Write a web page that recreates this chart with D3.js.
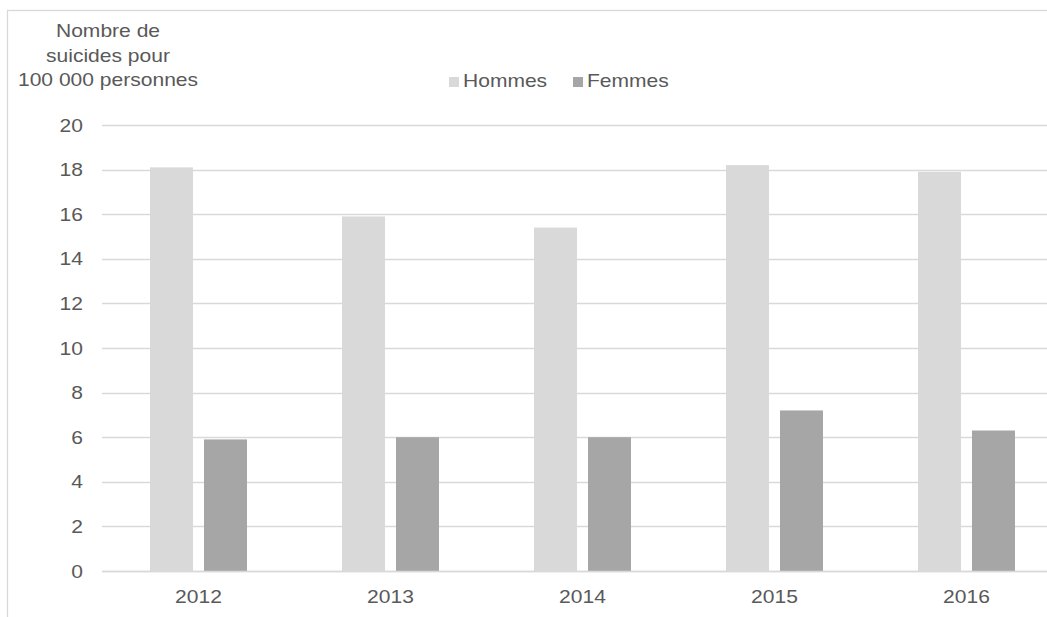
<!DOCTYPE html>
<html>
<head>
<meta charset="utf-8">
<script src="https://cdn.jsdelivr.net/npm/d3@7"></script>
<style>
  html, body { margin: 0; padding: 0; background: #fff; }
  svg { display: block; font-family: "Liberation Sans", Arial, sans-serif; }
</style>
</head>
<body>
<svg id="chart" width="1047" height="617"></svg>
<script>
const years = ["2012", "2013", "2014", "2015", "2016"];
const seriesNames = ["Hommes", "Femmes"];
const hommes = [18.1, 15.9, 15.4, 18.2, 17.9];
const femmes = [5.9, 6.0, 6.0, 7.2, 6.3];
const yTicks = [0, 2, 4, 6, 8, 10, 12, 14, 16, 18, 20];
const titleLines = ["Nombre de", "suicides pour", "100 000 personnes"];
const colors = ["#d9d9d9", "#a6a6a6"];

const svg = d3.select("#chart");
const textColor = "#595959";
const fontSize = 18.8;
const sx = 1.12; // horizontal stretch of text seen in the reference

function label(parent, px, py, txt, anchor) {
  const g = parent.append("g").attr("transform", `translate(${px},${py}) scale(${sx},1)`);
  g.append("text").attr("text-anchor", anchor || "start")
    .attr("font-size", fontSize).attr("fill", textColor).text(txt);
  return g;
}

// Chart border (partially cropped)
svg.append("rect")
  .attr("x", 7.5).attr("y", 10.5)
  .attr("width", 1100).attr("height", 700)
  .attr("fill", "none").attr("stroke", "#d9d9d9").attr("stroke-width", 1.3);

const x = d3.scaleBand().domain(years).range([102.5, 1062.5]).padding(0);
const xs = d3.scaleBand().domain(seriesNames).range([-48.5, 48.5]).paddingInner(11 / 54).paddingOuter(0);
const y = d3.scaleLinear().domain([0, 20]).range([571, 125]);

// Gridlines
svg.append("g").selectAll("line").data(yTicks).join("line")
  .attr("x1", 102).attr("x2", 1047)
  .attr("y1", d => Math.round(y(d)) + 0.5).attr("y2", d => Math.round(y(d)) + 0.5)
  .attr("stroke", "#d9d9d9").attr("stroke-width", 1.3);

// Y tick labels
const yl = svg.append("g");
yTicks.forEach(t => label(yl, 83, y(t) + 6.5, String(t), "end"));

// Bars
const data = years.map((yr, i) => ({ year: yr, values: [hommes[i], femmes[i]] }));
const groups = svg.append("g").selectAll("g").data(data).join("g")
  .attr("transform", d => `translate(${x(d.year) + x.bandwidth() / 2},0)`);
groups.selectAll("rect").data(d => d.values.map((v, j) => ({ name: seriesNames[j], v, j }))).join("rect")
  .attr("x", d => xs(d.name))
  .attr("width", xs.bandwidth())
  .attr("y", d => y(d.v))
  .attr("height", d => y(0) - y(d.v))
  .attr("fill", d => colors[d.j]);

// Baseline (axis)
svg.append("line")
  .attr("x1", 102).attr("x2", 1047)
  .attr("y1", Math.round(y(0)) + 0.5).attr("y2", Math.round(y(0)) + 0.5)
  .attr("stroke", "#d9d9d9").attr("stroke-width", 1.3);

// X labels
const xl = svg.append("g");
years.forEach(yr => label(xl, x(yr) + x.bandwidth() / 2, 603, yr, "middle"));

// Y axis title
const tl = svg.append("g");
titleLines.forEach((ln, i) => label(tl, 108, 37 + i * 24.5, ln, "middle"));

// Legend
const legendX = [449, 573];
const leg = svg.append("g");
seriesNames.forEach((name, i) => {
  leg.append("rect").attr("x", legendX[i]).attr("y", 77).attr("width", 10).attr("height", 10).attr("fill", colors[i]);
  label(leg, legendX[i] + 14, 87, name, "start");
});
</script>
</body>
</html>
